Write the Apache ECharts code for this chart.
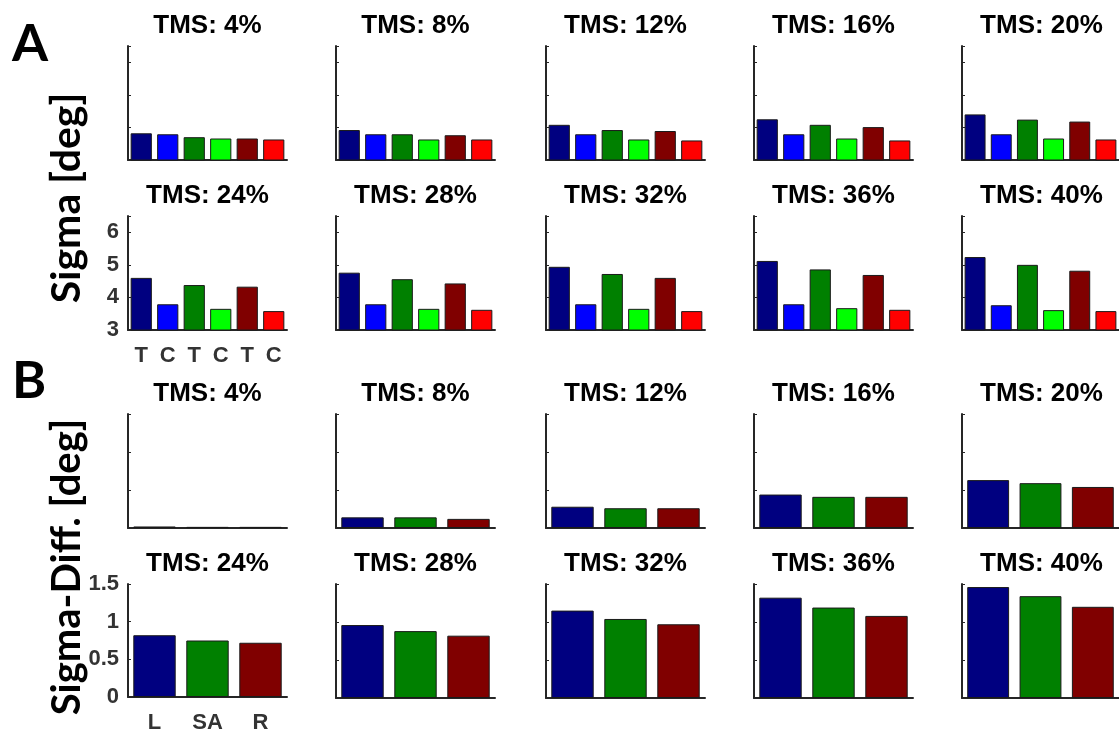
<!DOCTYPE html>
<html>
<head>
<meta charset="utf-8">
<title>TMS sigma panels</title>
<script src="https://cdn.jsdelivr.net/npm/echarts@6/dist/echarts.min.js"></script>
<style>
  html, body { margin: 0; padding: 0; background: #fff; }
  #chart { width: 1119px; height: 734px; }
</style>
</head>
<body>
<div id="chart"></div>
<script>
// TMS intensity per panel
const tmsLevels = [4, 8, 12, 16, 20, 24, 28, 32, 36, 40];

// panel A: sigma [deg], T = TMS trials, C = control trials (L, SA, R)
const sigmaCategories = ["T", "C", "T", "C", "T", "C"];
const sigmaLT = [3.82, 3.92, 4.08, 4.25, 4.40, 4.60, 4.76, 4.94, 5.12, 5.24];
const sigmaLC = [3.79, 3.79, 3.79, 3.79, 3.79, 3.79, 3.79, 3.79, 3.79, 3.76];
const sigmaSAT = [3.70, 3.79, 3.92, 4.08, 4.24, 4.38, 4.56, 4.72, 4.86, 5.00];
const sigmaSAC = [3.66, 3.63, 3.63, 3.66, 3.66, 3.65, 3.65, 3.65, 3.67, 3.61];
const sigmaRT = [3.66, 3.76, 3.89, 4.01, 4.18, 4.33, 4.43, 4.60, 4.69, 4.82];
const sigmaRC = [3.63, 3.63, 3.60, 3.60, 3.63, 3.58, 3.62, 3.58, 3.62, 3.58];

// panel B: sigma difference [deg]
const diffCategories = ["L", "SA", "R"];
const diffL = [0.02, 0.14, 0.28, 0.44, 0.63, 0.82, 0.96, 1.15, 1.32, 1.46];
const diffSA = [0.015, 0.14, 0.26, 0.41, 0.59, 0.75, 0.88, 1.04, 1.19, 1.34];
const diffR = [0.015, 0.12, 0.26, 0.41, 0.54, 0.72, 0.82, 0.97, 1.08, 1.20];

const sigmaColors = ["#000080", "#0000ff", "#008000", "#00ff00", "#800000", "#ff0000"];
const diffColors = ["#000080", "#008000", "#800000"];

// layout (px)
const colLeft = [128, 336, 546, 754, 962];
const panelW = 159;
const rowTop = [46, 216, 414, 584];
const panelH = 114;

const axisColor = "#262626";
const grid = [], xAxis = [], yAxis = [], series = [], graphic = [];

function addPanel(idx, section, row, col) {
  const gi = grid.length;
  const isSigma = section === 0;
  const labelled = row === 1 && col === 0;
  const top = rowTop[section * 2 + row];
  grid.push({ left: colLeft[col], top: top, width: panelW, height: panelH });
  xAxis.push({
    type: "category",
    gridIndex: gi,
    data: isSigma ? sigmaCategories : diffCategories,
    axisLine: { lineStyle: { color: axisColor, width: 2 } },
    axisTick: { show: false },
    axisLabel: {
      show: labelled,
      margin: 15,
      color: "#333",
      fontSize: 22,
      fontWeight: "bold",
      fontFamily: "Liberation Sans"
    }
  });
  yAxis.push({
    type: "value",
    gridIndex: gi,
    min: isSigma ? 3 : 0,
    max: isSigma ? 6.5 : 1.5,
    interval: isSigma ? 1 : 0.5,
    splitLine: { show: false },
    axisLine: { show: true, lineStyle: { color: axisColor, width: 2 } },
    axisTick: { show: true, inside: true, length: 3, lineStyle: { color: axisColor } },
    axisLabel: {
      show: labelled,
      margin: 9,
      color: "#333",
      fontSize: 22,
      fontWeight: "bold",
      fontFamily: "Liberation Sans",
      formatter: (v) => (isSigma && v > 6 ? "" : String(v))
    }
  });
  const vals = isSigma
    ? [sigmaLT[idx], sigmaLC[idx], sigmaSAT[idx], sigmaSAC[idx], sigmaRT[idx], sigmaRC[idx]]
    : [diffL[idx], diffSA[idx], diffR[idx]];
  const colors = isSigma ? sigmaColors : diffColors;
  series.push({
    type: "bar",
    xAxisIndex: gi,
    yAxisIndex: gi,
    barCategoryGap: "20%",
    data: vals.map((v, i) => ({
      value: v,
      itemStyle: { color: colors[i], borderColor: "#1a1a1a", borderWidth: 1 }
    }))
  });
  graphic.push({
    type: "text",
    x: colLeft[col] + panelW / 2,
    y: top - 20,
    style: {
      text: "TMS: " + tmsLevels[idx] + "%",
      align: "center",
      verticalAlign: "middle",
      fill: "#000",
      font: "bold 26px 'Liberation Sans'"
    }
  });
}

for (let section = 0; section < 2; section++) {
  for (let row = 0; row < 2; row++) {
    for (let col = 0; col < 5; col++) {
      addPanel(row * 5 + col, section, row, col);
    }
  }
}

graphic.push(
  { type: "text", x: 30, y: 44, style: { text: "A", align: "center", verticalAlign: "middle", fill: "#000", font: "bold 52px Lato" } },
  { type: "text", x: 29, y: 381, style: { text: "B", align: "center", verticalAlign: "middle", fill: "#000", font: "bold 52px Lato" } },
  { type: "text", x: 67, y: 198, rotation: Math.PI / 2, style: { text: "Sigma [deg]", align: "center", verticalAlign: "middle", fill: "#000", font: "bold 41px Lato" } },
  { type: "text", x: 67, y: 567, rotation: Math.PI / 2, style: { text: "Sigma-Diff. [deg]", align: "center", verticalAlign: "middle", fill: "#000", font: "bold 40px Lato" } }
);

const chart = echarts.init(document.getElementById("chart"), null, { renderer: "canvas" });
chart.setOption({
  animation: false,
  backgroundColor: "#fff",
  grid: grid,
  xAxis: xAxis,
  yAxis: yAxis,
  series: series,
  graphic: graphic
});
</script>
</body>
</html>
